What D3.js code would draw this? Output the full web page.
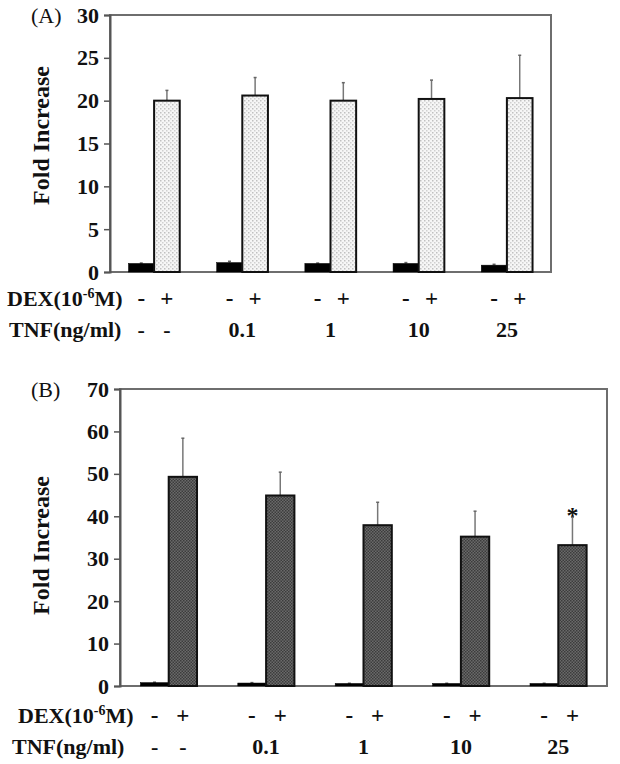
<!DOCTYPE html>
<html>
<head>
<meta charset="utf-8">
<script src="https://cdn.jsdelivr.net/npm/d3@7"></script>
<style>
  body { margin: 0; background: #fff; }
  svg text { font-family: "Liberation Serif", "DejaVu Serif", serif; fill: #111; }
</style>
</head>
<body>
<svg data-chart width="620" height="764"></svg>
<script>
// groups along x (TNF dose), two bars per group (DEX - / +)
const tnfLabels = ['-', '0.1', '1', '10', '25']
const dexLabels = ['-', '+']

// panel A
const ctrlA = [1.0, 1.1, 1.0, 1.0, 0.8]
const ctrlAErr = [0.05, 0.15, 0.05, 0.1, 0.1]
const dexA = [20.0, 20.6, 20.0, 20.2, 20.3]
const dexAErr = [1.2, 2.1, 2.1, 2.2, 5.0]
const ticksA = [0, 5, 10, 15, 20, 25, 30]

// panel B
const ctrlB = [0.8, 0.7, 0.6, 0.6, 0.6]
const ctrlBErr = [0.1, 0.1, 0.05, 0.05, 0.05]
const dexB = [49.3, 44.9, 37.9, 35.2, 33.2]
const dexBErr = [9.1, 5.5, 5.4, 6.0, 6.6]
const ticksB = [0, 10, 20, 30, 40, 50, 60, 70]
const starsB = ['', '', '', '', '*']

const svg = d3.select('[data-chart]')
const defs = svg.append('defs')

// light dotted fill (panel A)
let pA = defs.append('pattern').attr('id', 'dots')
    .attr('width', 4).attr('height', 4).attr('patternUnits', 'userSpaceOnUse')
pA.append('rect').attr('width', 4).attr('height', 4).attr('fill', '#f6f6f6')
pA.append('rect').attr('x', 0).attr('y', 0).attr('width', 1.5).attr('height', 1.5).attr('fill', '#c0c0c0')
pA.append('rect').attr('x', 2).attr('y', 2).attr('width', 1.5).attr('height', 1.5).attr('fill', '#d0d0d0')

// dark checkered fill (panel B)
let pB = defs.append('pattern').attr('id', 'checks')
    .attr('width', 3).attr('height', 3).attr('patternUnits', 'userSpaceOnUse')
pB.append('rect').attr('width', 3).attr('height', 3).attr('fill', '#6a6a6a')
pB.append('rect').attr('width', 1.5).attr('height', 1.5).attr('fill', '#3c3c3c')
pB.append('rect').attr('x', 1.5).attr('y', 1.5).attr('width', 1.5).attr('height', 1.5).attr('fill', '#3c3c3c')

function drawPanel(opt) {
    const g = svg.append('g')

    const x = d3.scaleBand().domain(d3.range(tnfLabels.length))
        .range([opt.left, opt.right]).padding(0)
    const inner = d3.scaleBand().domain([0, 1])
        .range([0, x.bandwidth()]).paddingInner(0).paddingOuter(0.72)
    const y = d3.scaleLinear().domain([0, opt.max]).range([opt.bottom, opt.top])

    // frame
    g.append('rect')
        .attr('x', opt.left).attr('y', opt.top)
        .attr('width', opt.right - opt.left).attr('height', opt.bottom - opt.top)
        .attr('fill', 'none').attr('stroke', '#6e6e6e').attr('stroke-width', 2)

    // y axis
    const ax = g.append('g')
        .attr('transform', `translate(${opt.left},0)`)
        .call(d3.axisLeft(y).tickValues(opt.ticks).tickSize(6).tickPadding(5))
    ax.select('.domain').attr('stroke', '#555').attr('stroke-width', 2)
    ax.selectAll('.tick line').attr('stroke', '#555').attr('stroke-width', 1.5)
    ax.selectAll('.tick text')
        .attr('font-family', '"Liberation Serif", serif')
        .attr('font-size', 22).attr('font-weight', 'bold').attr('fill', '#111')

    const series = [
        {vals: opt.ctrl, errs: opt.ctrlErr, fill: '#000', stroke: '#000'},
        {vals: opt.dex, errs: opt.dexErr, fill: opt.fill, stroke: '#111'}
    ]

    series.forEach((s, k) => {
        const cx = i => x(i) + inner(k) + inner.bandwidth() / 2

        // error bars (upper only)
        g.selectAll(null).data(s.vals).enter().append('line')
            .attr('x1', (d, i) => cx(i)).attr('x2', (d, i) => cx(i))
            .attr('y1', d => y(d))
            .attr('y2', (d, i) => y(d + s.errs[i]))
            .attr('stroke', '#777').attr('stroke-width', 1.5)
        g.selectAll(null).data(s.vals).enter().append('line')
            .attr('x1', (d, i) => cx(i) - 1.5).attr('x2', (d, i) => cx(i) + 1.5)
            .attr('y1', (d, i) => y(d + s.errs[i]))
            .attr('y2', (d, i) => y(d + s.errs[i]))
            .attr('stroke', '#666').attr('stroke-width', 1.5)

        g.selectAll(null).data(s.vals).enter().append('rect')
            .attr('x', (d, i) => x(i) + inner(k))
            .attr('y', d => y(d))
            .attr('width', inner.bandwidth())
            .attr('height', d => y(0) - y(d))
            .attr('fill', s.fill)
            .attr('stroke', s.stroke)
            .attr('stroke-width', k == 0 ? 0.5 : 2)

        // DEX row
        g.selectAll(null).data(tnfLabels).enter().append('text')
            .attr('x', (d, i) => cx(i))
            .attr('y', opt.dexY)
            .attr('text-anchor', 'middle')
            .attr('font-size', 23).attr('font-weight', 'bold')
            .text(dexLabels[k])
    })

    // TNF row
    tnfLabels.forEach((lab, i) => {
        const pos = lab == '-'
            ? [0, 1].map(k => x(i) + inner(k) + inner.bandwidth() / 2)
            : [x(i) + x.bandwidth() / 2]
        pos.forEach(px => {
            g.append('text')
                .attr('x', px).attr('y', opt.tnfY)
                .attr('text-anchor', 'middle')
                .attr('font-size', 22).attr('font-weight', 'bold')
                .text(lab)
        })
    })

    // significance marks
    if (opt.stars) {
        opt.stars.forEach((s, i) => {
            if (!s) return
            g.append('text')
                .attr('x', x(i) + inner(1) + inner.bandwidth() / 2)
                .attr('y', y(opt.dex[i] + opt.dexErr[i]) + 6)
                .attr('text-anchor', 'middle')
                .attr('font-size', 24).attr('font-weight', 'bold')
                .text(s)
        })
    }

    // row titles
    const dex = g.append('text')
        .attr('x', opt.dexX).attr('y', opt.dexY)
        .attr('font-size', 22).attr('font-weight', 'bold')
    dex.append('tspan').text('DEX(10')
    dex.append('tspan').attr('font-size', 14).attr('dy', -8).text('-6')
    dex.append('tspan').attr('dy', 8).text('M)')

    g.append('text')
        .attr('x', opt.tnfX).attr('y', opt.tnfY)
        .attr('font-size', 22).attr('font-weight', 'bold')
        .text('TNF(ng/ml)')

    // panel letter
    g.append('text')
        .attr('x', 31).attr('y', opt.top + 8)
        .attr('font-size', 22)
        .text(opt.letter)

    // y title
    g.append('text')
        .attr('transform', `translate(49,${(opt.top + opt.bottom) / 2 + opt.titleShift}) rotate(-90)`)
        .attr('text-anchor', 'middle')
        .attr('font-size', 24).attr('font-weight', 'bold')
        .text('Fold Increase')
}

drawPanel({
    letter: '(A)', left: 110, right: 551, top: 15, bottom: 272, max: 30,
    ticks: ticksA, ctrl: ctrlA, ctrlErr: ctrlAErr, dex: dexA, dexErr: dexAErr,
    fill: 'url(#dots)', dexY: 306, tnfY: 337, dexX: 7, tnfX: 9, titleShift: -8
})

drawPanel({
    letter: '(B)', left: 120, right: 607, top: 389, bottom: 686, max: 70,
    ticks: ticksB, ctrl: ctrlB, ctrlErr: ctrlBErr, dex: dexB, dexErr: dexBErr,
    fill: 'url(#checks)', stars: starsB, dexY: 723, tnfY: 754, dexX: 18, tnfX: 12, titleShift: 8
})
</script>
</body>
</html>
